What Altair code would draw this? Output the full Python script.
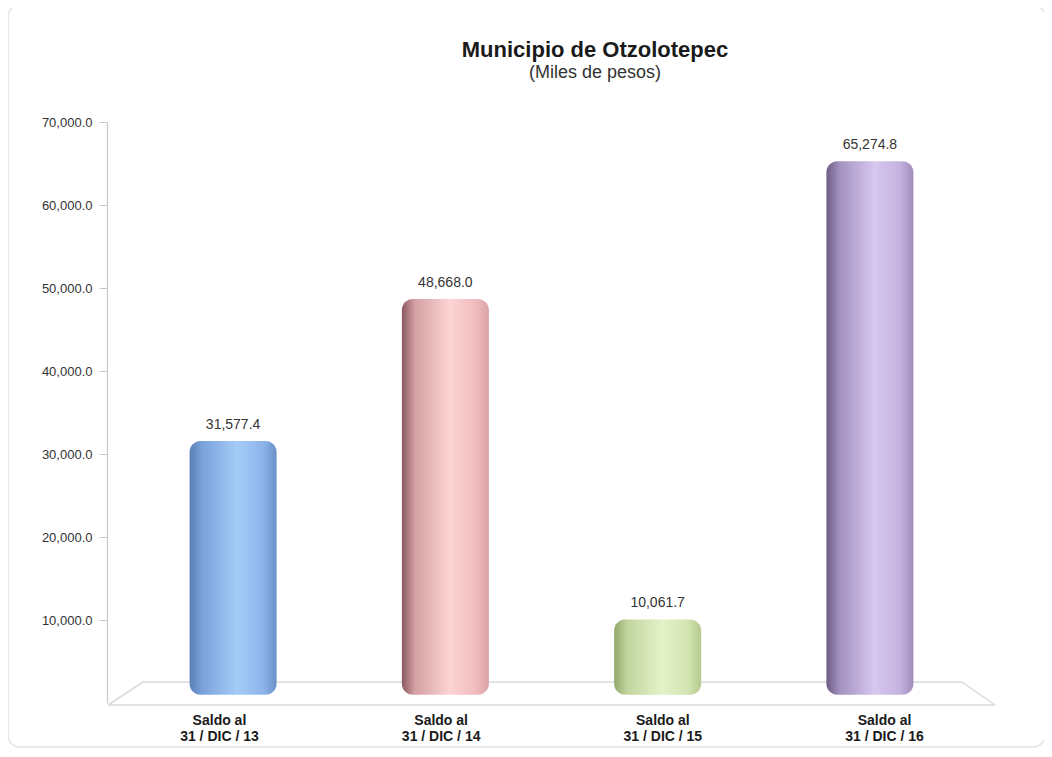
import altair as alt
import pandas as pd

title_text = "Municipio de Otzolotepec"
subtitle_text = "(Miles de pesos)"
categories = ["Saldo al 31 / DIC / 13", "Saldo al 31 / DIC / 14",
              "Saldo al 31 / DIC / 15", "Saldo al 31 / DIC / 16"]
values = [31577.4, 48668.0, 10061.7, 65274.8]
y_ticks = [10000, 20000, 30000, 40000, 50000, 60000, 70000]

gradients = [
    ["#5a7fb5", "#7ba3dc", "#a5cbf7", "#8db4ea", "#6b91c8"],
    ["#8a5a5e", "#d4a0a3", "#fcd3d3", "#f2bcbe", "#d9a2a5"],
    ["#93a86c", "#c1d59d", "#e4f2c8", "#d2e4b0", "#b5c98e"],
    ["#6c5d86", "#a391c0", "#d6c7ef", "#c3b2de", "#9f8cbd"],
]
offsets = [0, 0.15, 0.55, 0.85, 1]

df = pd.DataFrame({"cat": categories, "val": values})
FONT = "Liberation Sans"

x_bar = alt.X("cat:N", sort=categories,
              scale=alt.Scale(domain=categories, paddingInner=0.59, paddingOuter=0.389),
              axis=None)
y_enc = alt.Y("val:Q", scale=alt.Scale(domain=[0, 70000], nice=False),
              axis=alt.Axis(values=y_ticks, format=",.1f", title=None, grid=False,
                            domainColor="#c8c8c8", tickColor="#c8c8c8", tickSize=8,
                            labelPadding=7, labelFont=FONT, labelFontSize=13,
                            labelColor="#333333", domainWidth=1.2, zindex=1))

bar_layers = []
for c, g in zip(categories, gradients):
    grad = alt.Gradient(gradient="linear", x1=0, x2=1, y1=0, y2=0,
                        stops=[alt.GradientStop(offset=o, color=col) for o, col in zip(offsets, g)])
    bar_layers.append(
        alt.Chart(df).transform_filter(alt.datum.cat == c)
        .mark_bar(color=grad, cornerRadius=11, size=87)
        .encode(x=x_bar, y=y_enc, y2=alt.datum(1000))
    )

labels = alt.Chart(df).mark_text(baseline="bottom", dy=-9, font=FONT, fontSize=14,
                                 color="#333333").encode(
    x=x_bar, y=alt.Y("val:Q"), text=alt.Text("val:Q", format=",.1f"))

bars = alt.layer(*bar_layers, labels)

one = alt.Data(values=[{"a": 1}])
frame = alt.Chart(one).mark_rect(fill="transparent", stroke="#e4e4e4", strokeWidth=1.5,
                                 cornerRadius=12, clip=False).encode(
    x=alt.value(-99), x2=alt.value(938), y=alt.value(-117), y2=alt.value(625))

titles = alt.layer(
    alt.Chart(one).mark_text(text=title_text, font=FONT, fontSize=22, fontWeight="bold",
                             color="#1a1a1a", baseline="middle", align="center").encode(
        x=alt.value(488), y=alt.value(-72)),
    alt.Chart(one).mark_text(text=subtitle_text, font=FONT, fontSize=18,
                             color="#333333", baseline="middle", align="center").encode(
        x=alt.value(488), y=alt.value(-49)),
)

floor_col = "#d9d9d9"
def seg(x1, y1, x2, y2):
    return alt.Chart(one).mark_rule(color=floor_col, strokeWidth=1.5).encode(
        x=alt.value(x1), y=alt.value(y1), x2=alt.value(x2), y2=alt.value(y2))

floor = alt.layer(seg(36, 560, 855, 560), seg(1, 583, 888, 583),
                  seg(36, 560, 1, 583), seg(855, 560, 888, 583))

xlab = alt.Chart(df).mark_point(opacity=0).encode(
    x=alt.X("cat:N", sort=categories,
            scale=alt.Scale(type="point", domain=categories, padding=0.505),
            axis=alt.Axis(title=None, domain=False, ticks=False, labelAngle=0,
                          labelFont=FONT, labelFontSize=14, labelFontWeight="bold",
                          labelColor="#1a1a1a", labelPadding=10, labelLineHeight=16,
                          zindex=1,
                          labelExpr="['Saldo al', slice(datum.label, 9)]")),
    y=alt.Y("val:Q"))

chart = alt.layer(frame, titles, floor, bars, xlab).resolve_scale(x="independent").properties(
    width=889, height=581,
    autosize=alt.AutoSizeParams(type="none"),
    padding={"left": 99, "top": 114, "right": 48, "bottom": 46},
).configure(background="white").configure_view(stroke=None)

chart.save("out.html", embed_options={"renderer": "svg", "actions": False})
